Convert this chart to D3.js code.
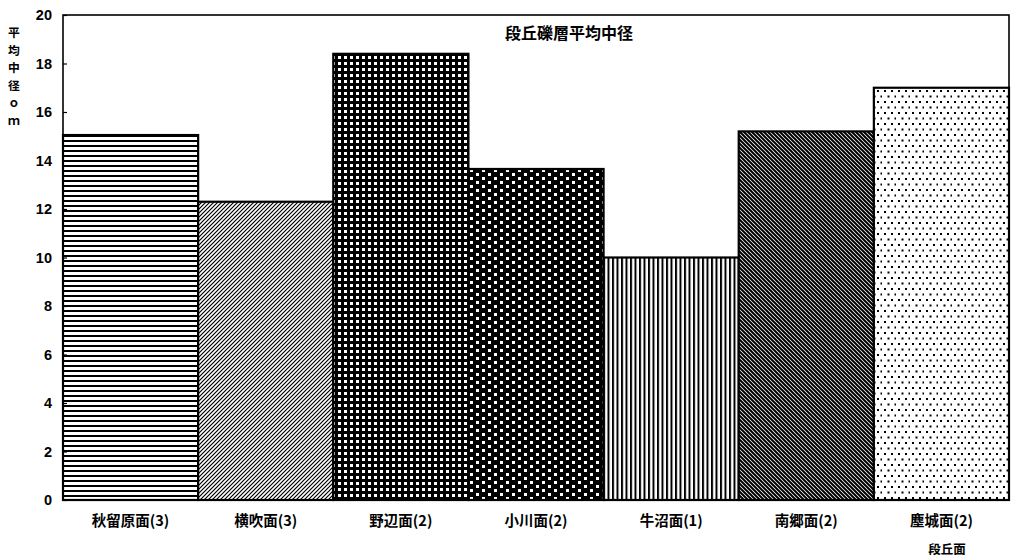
<!DOCTYPE html>
<html lang="ja">
<head>
<meta charset="utf-8">
<script src="https://cdn.jsdelivr.net/npm/d3@7"></script>
<style>
  html, body { margin: 0; padding: 0; background: #fff; }
  svg { display: block; }
  .jp { font-family: "Noto Sans CJK JP", "Noto Sans CJK SC", sans-serif; font-weight: 700; }
  .num { font-family: "Liberation Sans", Arial, sans-serif; font-weight: 700; }
</style>
</head>
<body>
<script>
// 段丘面ごとの礫層平均中径（括弧内は地点数）
const categories = ["秋留原面(3)", "横吹面(3)", "野辺面(2)", "小川面(2)", "牛沼面(1)", "南郷面(2)", "塵城面(2)"];
const values = [15.05, 12.3, 18.4, 13.65, 10.0, 15.2, 17.0];
const yTicks = [0, 2, 4, 6, 8, 10, 12, 14, 16, 18, 20];
const yLabelChars = ["平", "均", "中", "径", "ｏ", "ｍ"];
const chartTitle = "段丘礫層平均中径";
const xTitle = "段丘面";

const W = 1016, H = 559;
const margin = { left: 63, right: 7, top: 15, bottom: 59 };

const svg = d3.select("body").append("svg")
  .attr("width", W).attr("height", H);

const defs = svg.append("defs");

// hatch fills, one per terrace surface
function pat(id, w, h, draw, bg) {
  const p = defs.append("pattern")
    .attr("id", id).attr("patternUnits", "userSpaceOnUse")
    .attr("width", w).attr("height", h);
  p.append("rect").attr("width", w).attr("height", h).attr("fill", bg);
  draw(p);
}
// horizontal lines
pat("p0", 6, 5, p => p.append("rect").attr("x", 0).attr("y", 0).attr("width", 6).attr("height", 2).attr("fill", "#000"), "#fff");
// fine up-right diagonals
pat("p1", 4, 4, p => {
  p.append("path").attr("d", "M-1,1 L1,-1 M0,4 L4,0 M3,5 L5,3").attr("stroke", "#000").attr("stroke-width", 1.2);
}, "#fff");
// grid: black with small white squares
pat("p2", 6, 6, p => p.append("rect").attr("x", 2).attr("y", 2).attr("width", 3).attr("height", 3).attr("fill", "#fff"), "#000");
// black with scattered white dots
pat("p3", 12, 8, p => {
  p.append("rect").attr("x", 2).attr("y", 1).attr("width", 3).attr("height", 3).attr("fill", "#fff");
  p.append("rect").attr("x", 8).attr("y", 5).attr("width", 3).attr("height", 3).attr("fill", "#fff");
}, "#000");
// vertical lines
pat("p4", 4.5, 6, p => p.append("rect").attr("x", 0).attr("y", 0).attr("width", 2).attr("height", 6).attr("fill", "#000"), "#fff");
// dense down-right diagonals
pat("p5", 4, 4, p => {
  p.append("path").attr("d", "M-1,3 L1,5 M0,0 L4,4 M3,-1 L5,1").attr("stroke", "#000").attr("stroke-width", 2);
}, "#fff");
// white with sparse black dots
pat("p6", 14, 11, p => {
  p.append("rect").attr("x", 2).attr("y", 2).attr("width", 2).attr("height", 2).attr("fill", "#000");
  p.append("rect").attr("x", 9).attr("y", 2).attr("width", 2).attr("height", 2).attr("fill", "#000");
  p.append("rect").attr("x", 5.5).attr("y", 7.5).attr("width", 2).attr("height", 2).attr("fill", "#000");
  p.append("rect").attr("x", 12.5).attr("y", 7.5).attr("width", 2).attr("height", 2).attr("fill", "#000");
}, "#fff");

const x = d3.scaleBand()
  .domain(categories)
  .range([margin.left, W - margin.right])
  .padding(0);

const y = d3.scaleLinear()
  .domain([0, 20])
  .range([H - margin.bottom, margin.top]);

// bars
svg.append("g").selectAll("rect")
  .data(categories)
  .join("rect")
  .attr("x", d => x(d))
  .attr("y", (d, i) => y(values[i]))
  .attr("width", x.bandwidth())
  .attr("height", (d, i) => y(0) - y(values[i]))
  .attr("fill", (d, i) => `url(#p${i})`)
  .attr("stroke", "#000")
  .attr("stroke-width", 2.2);

// plot frame
svg.append("rect")
  .attr("x", margin.left).attr("y", margin.top)
  .attr("width", W - margin.right - margin.left)
  .attr("height", y(0) - margin.top)
  .attr("fill", "none").attr("stroke", "#000").attr("stroke-width", 1.6);

// y axis
const yAxis = svg.append("g")
  .attr("transform", `translate(${margin.left},0)`)
  .call(d3.axisLeft(y).tickValues(yTicks).tickSize(-4).tickPadding(11));
yAxis.select(".domain").remove();
yAxis.selectAll(".tick line").attr("stroke", "#000").attr("stroke-width", 1.2);
yAxis.selectAll("text").attr("class", "num").attr("font-size", 14.5).attr("fill", "#000");

// x axis
const xAxis = svg.append("g")
  .attr("transform", `translate(0,${y(0)})`)
  .call(d3.axisBottom(x).tickSize(0).tickPadding(16));
xAxis.select(".domain").remove();
xAxis.selectAll("text").attr("class", "jp").attr("font-size", 14.5).attr("fill", "#000");

// title inside the plot
svg.append("text")
  .attr("class", "jp")
  .attr("x", 569).attr("y", 39)
  .attr("text-anchor", "middle")
  .attr("font-size", 16)
  .text(chartTitle);

// vertical y-axis title
svg.append("g").selectAll("text")
  .data(yLabelChars)
  .join("text")
  .attr("class", "jp")
  .attr("x", 14)
  .attr("y", (d, i) => 37 + i * 17.5)
  .attr("text-anchor", "middle")
  .attr("font-size", 11.8)
  .text(d => d);

// x-axis title
svg.append("text")
  .attr("class", "jp")
  .attr("x", 947).attr("y", 554)
  .attr("text-anchor", "middle")
  .attr("font-size", 12.5)
  .text(xTitle);
</script>
</body>
</html>
